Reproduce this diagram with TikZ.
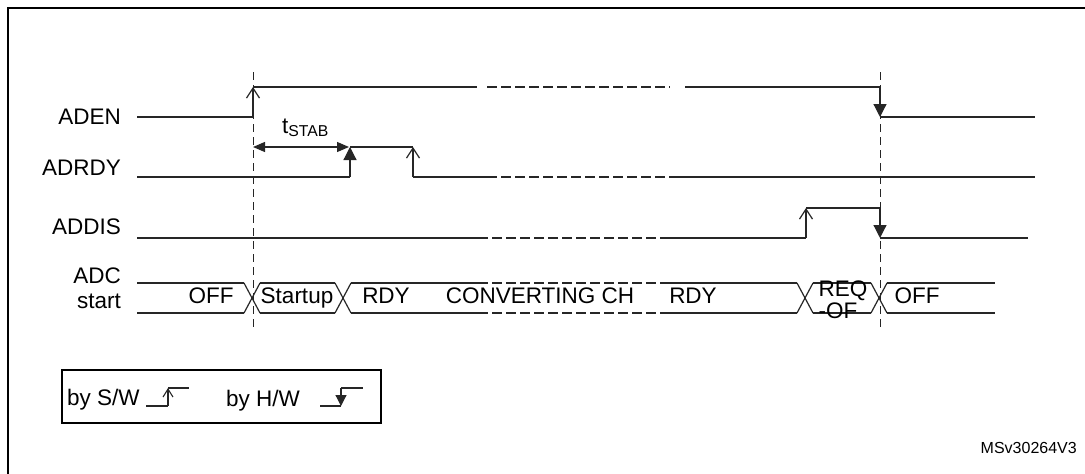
\documentclass[tikz,border=0pt]{standalone}
\usepackage{fontspec}
\setmainfont{Liberation Sans}
\usetikzlibrary{arrows.meta}

\begin{document}
\begin{tikzpicture}[x=1pt,y=-1pt,
  sig/.style={line width=1.2pt,black!85},
  gap/.style={sig,dash pattern=on 10pt off 4pt},
  guide/.style={line width=1pt,black!85,dash pattern=on 8pt off 5pt},
  swarrow/.style={-{Straight Barb[length=10pt,width=13pt,line width=1.2pt]}},
  hwarrow/.style={-{Triangle[length=13pt,width=13pt]}},
  swsmall/.style={-{Straight Barb[length=8pt,width=10pt,line width=1.1pt]}},
  hwsmall/.style={-{Triangle[length=11pt,width=11pt]}},
  lbl/.style={font=\fontsize{22.5}{24}\selectfont,inner sep=0pt,anchor=base}]
  \useasboundingbox (0,0) rectangle (1085,474);
  % Frame
  \draw[line width=2pt] (8,474) -- (8,7.5) -- (1085,7.5);
  % Vertical guides at enable and disable
  \draw[guide] (253,72) -- (253,328);
  \draw[guide] (880,72) -- (880,328);
  % Signal names
  \node[lbl,anchor=base east] (aden) at (121,124) {ADEN};
  \node[lbl,anchor=base east] (adrdy) at (121,175) {ADRDY};
  \node[lbl,anchor=base east] (addis) at (121,234) {ADDIS};
  \node[lbl,anchor=base east] (adc) at (121,283) {ADC};
  \node[lbl,anchor=base east] (start) at (121,308) {start};
  % ADEN
  \draw[sig] (137,117) -- (253,117);
  \draw[sig,swarrow] (253,117) -- (253,87);
  \draw[sig] (253,87) -- (477,87);
  \draw[gap] (487,87) -- (670,87);
  \draw[sig] (685,87) -- (880,87);
  \draw[sig,hwarrow] (880,87) -- (880,117);
  \draw[sig] (880,117) -- (1035,117);
  % ADRDY
  \draw[sig] (137,177) -- (350,177);
  \draw[sig,hwarrow] (350,177) -- (350,147);
  \draw[sig] (350,147) -- (413,147);
  \draw[sig,swarrow] (413,177) -- (413,147);
  \draw[sig] (413,177) -- (487,177);
  \draw[gap] (487,177) -- (670,177);
  \draw[sig] (670,177) -- (1035,177);
  % tSTAB
  \draw[sig,{Triangle[length=12pt,width=10pt]}-{Triangle[length=12pt,width=10pt]}] (253,147) -- (349,147);
  \node[lbl,anchor=base west] (tstab) at (282,133) {t\textsubscript{STAB}};
  % ADDIS
  \draw[sig] (137,238) -- (478,238);
  \draw[gap] (478,238) -- (670,238);
  \draw[sig] (670,238) -- (806,238);
  \draw[sig,swarrow] (806,238) -- (806,208);
  \draw[sig] (806,208) -- (880,208);
  \draw[sig,hwarrow] (880,208) -- (880,238);
  \draw[sig] (880,238) -- (1028,238);
  % ADC state bus
  \foreach \a/\b in {137/244,260/335,351/478,665/797,813/871,887/995} {
    \draw[sig] (\a,283) -- (\b,283);
    \draw[sig] (\a,313) -- (\b,313);
  }
  \draw[gap] (478,283) -- (665,283);
  \draw[gap] (478,313) -- (665,313);
  \foreach \c in {252,343,805,879} {
    \draw[sig] (\c-8,283) -- (\c+8,313);
    \draw[sig] (\c-8,313) -- (\c+8,283);
  }
  \node[lbl] (off) at (211,303) {OFF};
  \node[lbl] (startup) at (297,303) {Startup};
  \node[lbl] (rdy) at (386,303) {RDY};
  \node[lbl] (conv) at (540,303) {CONVERTING CH};
  \node[lbl] (rdyb) at (693,303) {RDY};
  \node[lbl] (req) at (843,296) {REQ};
  \node[lbl] (reqof) at (838,318) {-OF};
  \node[lbl] (offb) at (917,303) {OFF};
  % Legend
  \draw[line width=1.5pt] (62,370) rectangle (381,423);
  \node[lbl,anchor=base west] (bysw) at (67,405) {by S/W};
  \draw[sig] (146,406) -- (168,406);
  \draw[sig,swsmall] (168,406) -- (168,388);
  \draw[sig] (168,388) -- (189,388);
  \node[lbl,anchor=base west] (byhw) at (226,406) {by H/W};
  \draw[sig] (320,406) -- (341,406);
  \draw[sig,hwsmall] (341,388) -- (341,406);
  \draw[sig] (341,388) -- (363,388);
  % Figure id
  \node[font=\fontsize{16}{18}\selectfont,inner sep=0pt,anchor=base east] (msv) at (1077,453) {MSv30264V3};
\end{tikzpicture}
\end{document}
